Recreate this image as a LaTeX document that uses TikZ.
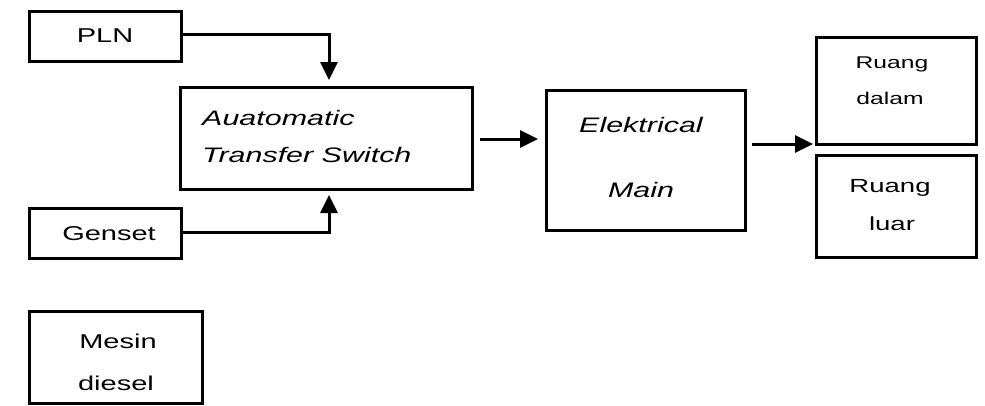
\documentclass[tikz,border=0pt]{standalone}
\usepackage{fontspec}
\setmainfont{Liberation Sans}[FakeStretch=1.45]
\usetikzlibrary{arrows.meta}
\begin{document}
\begin{tikzpicture}[x=1pt,y=-1pt,
  box/.style={draw=black,line width=3pt,inner sep=0pt,outer sep=0pt,rectangle,fill=none},
  lbl/.style={inner sep=0pt,font=\fontsize{20}{24}\selectfont,align=center},
  ilbl/.style={inner sep=0pt,font=\fontsize{21}{24}\selectfont\itshape},
  conn/.style={line width=3pt,-{Triangle[length=18pt,width=17pt]}}]
\useasboundingbox[fill=white] (0,0) rectangle (985,405);
% boxes
\node[box,minimum width=152pt,minimum height=50pt] (pln) at (105.5,36) {};
\node[box,minimum width=152pt,minimum height=50pt] (gen) at (105.5,233) {};
\node[box,minimum width=292pt,minimum height=102pt] (ats) at (326,138) {};
\node[box,minimum width=199pt,minimum height=140pt] (elm) at (645.5,160) {};
\node[box,minimum width=160pt,minimum height=107pt] (rd) at (896,90.5) {};
\node[box,minimum width=160pt,minimum height=102pt] (rl) at (896,206) {};
\node[box,minimum width=173pt,minimum height=92pt] (md) at (115.5,357) {};
% texts
\node[lbl] (plnT) at (105,36) {PLN};
\node[lbl] (genT) at (109,234) {Genset};
\node[ilbl,anchor=west] (atsA) at (202,118) {Auatomatic};
\node[ilbl,anchor=west] (atsB) at (202,155) {Transfer Switch};
\node[ilbl] (elmA) at (641,125) {Elektrical};
\node[ilbl] (elmB) at (641,190) {Main};
\node[lbl,font=\fontsize{17}{20}\selectfont] (rdA) at (892,64) {Ruang};
\node[lbl,font=\fontsize{17}{20}\selectfont] (rdB) at (890,98) {dalam};
\node[lbl,font=\fontsize{19}{22}\selectfont] (rlA) at (890,188) {Ruang};
\node[lbl,font=\fontsize{19}{22}\selectfont] (rlB) at (892,224) {luar};
\node[lbl] (mdA) at (118,341) {Mesin};
\node[lbl] (mdB) at (116,383) {diesel};
% connectors
\draw[conn,shorten >=7pt] ([yshift=2pt]pln.east) -| ([xshift=3pt]ats.north);
\draw[conn,shorten >=6pt] ([yshift=1pt]gen.east) -| ([xshift=3pt]ats.south);
\draw[conn,shorten <=8pt,shorten >=8pt] ([yshift=-1pt]ats.east) -- ([yshift=-1pt]ats.east -| elm.west);
\draw[conn,shorten <=7pt,shorten >=3pt] (elm.east |- rd.south) -- (rd.south west);
\end{tikzpicture}
\end{document}
